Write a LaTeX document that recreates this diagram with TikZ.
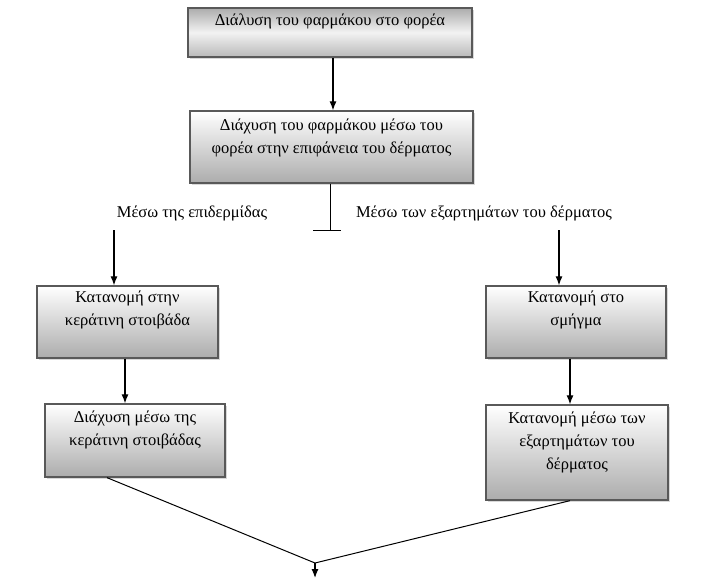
\documentclass[tikz,border=0pt]{standalone}
\usepackage{fontspec}
\setmainfont{Liberation Serif}
\usetikzlibrary{shadows,arrows.meta}
\begin{document}
\begin{tikzpicture}[x=1pt,y=-1pt,
  box/.style={draw=gray!70!black, line width=1.3pt, top color=white, bottom color=gray!65,
    drop shadow={shadow xshift=2pt, shadow yshift=-2pt, fill=gray!60}},
  boxtext/.style={anchor=north, align=center, font=\fontsize{16.5}{23}\selectfont},
  arr/.style={-{Latex[length=9pt,width=7pt]}, line width=1.2pt},
  lbl/.style={font=\fontsize{16.5}{20}\selectfont}]
  \useasboundingbox (0,0) rectangle (706,578);

  % Top boxes
  \node[box, top color=gray!65, bottom color=gray!55, middle color=gray!10,
    minimum width=284pt, minimum height=49pt] (dissolve) at (330,32.5) {};
  \node[boxtext] (dissolve-t) at (330,10) {Διάλυση του φαρμάκου στο φορέα};
  \node[box, minimum width=283pt, minimum height=72pt] (spread) at (331.5,147) {};
  \node[boxtext] (spread-t) at (331.5,115) {Διάχυση του φαρμάκου μέσω του\\φορέα στην επιφάνεια του δέρματος};

  % Left branch
  \node[box, minimum width=181pt, minimum height=72pt] (stratum) at (127.5,322) {};
  \node[boxtext] (stratum-t) at (127.5,287) {Κατανομή στην\\κεράτινη στοιβάδα};
  \node[box, minimum width=180pt, minimum height=73pt] (diffuse) at (135,440.5) {};
  \node[boxtext] (diffuse-t) at (135,407) {Διάχυση μέσω της\\κεράτινη στοιβάδας};

  % Right branch
  \node[box, minimum width=180pt, minimum height=72pt] (sebum) at (576,322) {};
  \node[boxtext] (sebum-t) at (576,287) {Κατανομή στο\\σμήγμα};
  \node[box, minimum width=182pt, minimum height=95pt] (append) at (577,452.5) {};
  \node[boxtext] (append-t) at (577,408) {Κατανομή μέσω των\\εξαρτημάτων του\\δέρματος};

  % Split
  \coordinate (split) at (330,230);
  \coordinate (split-l) at (313,230);
  \coordinate (split-r) at (341,230);
  \coordinate (left-top) at (114,230);
  \coordinate (right-top) at (559,230);
  \node[lbl] (via-epi) at (192,213) {Μέσω της επιδερμίδας};
  \node[lbl] (via-app) at (484,213) {Μέσω των εξαρτημάτων του δέρματος};

  % Join
  \coordinate (join) at (315,563);
  \coordinate (out) at (315,578);

  % Connectors
  \draw[arr] (dissolve.south -| 333,0) -- (spread.north -| 333,0);
  \draw[line width=1pt] (spread.south -| split) -- (split);
  \draw[line width=1pt] (split-l) -- (split-r);
  \draw[arr] (left-top) -- (stratum.north -| left-top);
  \draw[arr] (right-top) -- (sebum.north -| right-top);
  \draw[arr] (stratum.south -| 125,0) -- (diffuse.north -| 125,0);
  \draw[arr] (sebum.south -| 570,0) -- (append.north -| 570,0);
  \draw[line width=1pt] (diffuse.south -| 107,0) -- (join);
  \draw[line width=1pt] (append.south -| 570,0) -- (join);
  \draw[arr] (join) -- (out);
\end{tikzpicture}
\end{document}
